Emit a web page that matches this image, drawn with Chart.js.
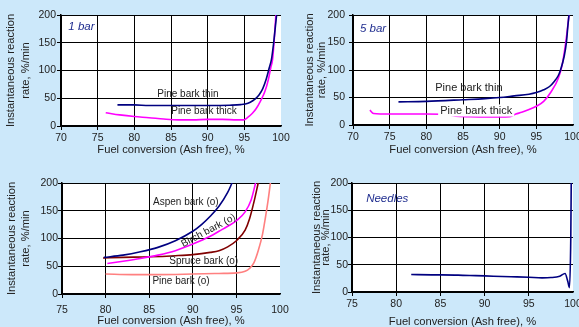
<!DOCTYPE html>
<html>
<head>
<meta charset="utf-8">
<script src="https://cdn.jsdelivr.net/npm/chart.js@4.4.1/dist/chart.umd.min.js"></script>
<style>
  body { margin: 0; background: #cce8fa; width: 579px; height: 327px; overflow: hidden; position: relative; }
  canvas { position: absolute; }
</style>
</head>
<body>
<canvas id="g1" width="290" height="163" style="left:0;top:0"></canvas>
<canvas id="g2" width="289" height="163" style="left:290px;top:0"></canvas>
<canvas id="g3" width="290" height="163" style="left:0;top:164px"></canvas>
<canvas id="g4" width="289" height="163" style="left:290px;top:164px"></canvas>
<script>
// ---- data ----
const yTicks = [0, 50, 100, 150, 200];

// 1 bar
const thin1X = [77.7, 80, 82, 85, 90, 93, 94.5, 95.5, 96.2, 96.5, 97, 97.5, 98, 98.4, 98.7, 99, 99.2, 99.4];
const thin1Y = [38, 38, 37, 37, 37, 37.5, 38.5, 41, 46, 49, 56, 67, 85, 105, 120, 150, 175, 200];
const thick1X = [76.1, 78, 80, 82, 84, 86, 88, 90, 92, 94, 94.9, 95.5, 96.1, 96.6, 97.2, 97.8, 98.3, 98.6, 98.85, 99.1, 99.3];
const thick1Y = [24, 20, 17, 15, 12.5, 11, 11, 12, 12, 11, 11, 16, 23, 31, 45, 62, 85, 105, 120, 160, 200];

// 5 bar
const thin5X = [76.2, 80, 85, 88, 90, 92, 94, 95, 96, 96.8, 97.5, 98, 98.3, 98.8, 99.1, 99.3, 99.45];
const thin5Y = [42, 43, 46, 48, 50, 53, 56, 59, 64, 70, 80, 90, 100, 125, 150, 180, 200];
const thick5X = [72.3, 72.8, 75, 80, 82.5, 84, 86, 88, 90, 91.3, 92.2, 93, 94, 95, 96, 97, 98, 98.5, 98.9, 99.2, 99.45];
const thick5Y = [27, 21, 20, 20, 19.5, 16, 15, 14.5, 14.5, 15, 20, 23, 28, 34, 43, 60, 85, 108, 140, 170, 200];

// bark types
const aspenX = [79.8, 82, 84, 86, 88, 90, 91, 92, 93, 94, 94.5];
const aspenY = [66, 70, 76, 84, 96, 113, 125, 140, 158, 183, 200];
const birchX = [80.2, 82, 84, 86, 88, 90, 92, 93, 94, 95, 96, 96.7, 97.2];
const birchY = [55, 59, 64, 70, 78, 90, 104, 113, 122, 132, 148, 170, 200];
const spruceX = [79.7, 82, 85, 88, 90, 92, 93, 94, 95, 96, 96.5, 97, 97.5];
const spruceY = [65, 66, 67, 69, 71, 75, 78, 85, 96, 115, 135, 165, 200];
const pineX = [80, 83, 86, 90, 93, 95, 96, 96.5, 97, 97.5, 98, 98.3, 98.6, 98.9];
const pineY = [36, 35, 35, 36, 37, 38, 41, 46, 56, 78, 108, 135, 165, 200];

// needles
const needlesX = [81.7, 84, 87, 89, 91, 93, 95, 96.5, 97.5, 98.5, 99.1, 99.4, 99.6, 99.75, 99.8];
const needlesY = [32, 31.5, 31, 30, 29, 28, 27, 26, 26.5, 29, 34, 20, 8, 100, 200];

// ---- helpers ----
Chart.defaults.font.family = '"Liberation Sans", Arial, sans-serif';
Chart.defaults.color = '#222';

const pts = (xs, ys) => xs.map((x, i) => ({ x: x, y: ys[i] }));

const line = (label, xs, ys, color) => ({
  label: label,
  data: pts(xs, ys),
  borderColor: color,
  borderWidth: 1.6,
  pointRadius: 0,
  fill: false,
  cubicInterpolationMode: 'monotone'
});

const plotBg = {
  id: 'plotBg',
  beforeDraw(chart) {
    const a = chart.chartArea;
    chart.ctx.save();
    chart.ctx.fillStyle = '#ffffff';
    chart.ctx.fillRect(a.left, a.top, a.right - a.left, a.bottom - a.top);
    chart.ctx.restore();
  }
};

const notes = {
  id: 'notes',
  afterDatasetsDraw(chart, args, opts) {
    const ctx = chart.ctx, x = chart.scales.x, y = chart.scales.y;
    (opts.items || []).forEach(n => {
      ctx.save();
      ctx.font = (n.italic ? 'italic ' : '') + n.size + 'px "Liberation Sans", Arial, sans-serif';
      ctx.textAlign = n.align || 'center';
      ctx.textBaseline = 'middle';
      ctx.translate(x.getPixelForValue(n.x), y.getPixelForValue(n.y));
      if (n.rotate) ctx.rotate(n.rotate * Math.PI / 180);
      if (n.bg) {
        const w = ctx.measureText(n.text).width;
        ctx.fillStyle = n.bg;
        ctx.fillRect(-w / 2 - 2, -n.size * 0.55, w + 4, n.size * 1.1);
      }
      ctx.fillStyle = n.color || '#222';
      ctx.fillText(n.text, 0, 0);
      ctx.restore();
    });
  }
};

function makePanel(id, p) {
  return new Chart(document.getElementById(id), {
    type: 'line',
    data: { datasets: p.datasets },
    plugins: [plotBg, notes],
    options: {
      responsive: false,
      animation: false,
      layout: { padding: { left: 0, top: p.padTop, right: p.padRight, bottom: 0 } },
      plugins: {
        legend: { display: false },
        tooltip: { enabled: false },
        notes: { items: p.notes }
      },
      scales: {
        x: {
          type: 'linear',
          min: p.xMin,
          max: 100,
          ticks: { stepSize: 5, padding: p.xTickPad, font: { size: 10.5 }, maxRotation: 0 },
          grid: {
            color: c => (c.tick && c.tick.value === 100) ? 'rgba(0,0,0,0)' : '#000',
            lineWidth: 1,
            tickLength: 4
          },
          border: { color: '#000', width: 1.5 },
          title: {
            display: true,
            text: 'Fuel conversion (Ash free), %',
            font: { size: 11.2, lineHeight: p.xTitleLH },
            padding: { top: 0, bottom: p.xTitlePad }
          },
          afterFit: s => { s.height = p.xH; s.paddingLeft = 0; s.paddingRight = 0; }
        },
        y: {
          min: 0,
          max: 200,
          afterBuildTicks: s => { s.ticks = yTicks.map(v => ({ value: v })); },
          ticks: { padding: p.yTickPad, font: { size: 10.5 } },
          grid: { color: '#000', lineWidth: 1, tickLength: 4 },
          border: { color: '#000', width: 1.5 },
          title: {
            display: true,
            text: ['Instantaneous reaction', 'rate, %/min'],
            font: { size: 11.2, lineHeight: p.yTitleLH },
            padding: { top: p.yTitlePad, bottom: 0 }
          },
          afterFit: s => { s.width = p.yW; s.paddingTop = 0; s.paddingBottom = 0; }
        }
      }
    }
  });
}

makePanel('g1', {
  xMin: 70, yW: 61, padTop: 15, padRight: 9, xH: 37,
  yTitleLH: '14.4px', yTitlePad: 4.1, xTitleLH: '13.4px', xTitlePad: 6.8,
  yTickPad: 1, xTickPad: 2,
  datasets: [
    line('Pine bark thin', thin1X, thin1Y, '#000080'),
    line('Pine bark thick', thick1X, thick1Y, '#ff00ff')
  ],
  notes: [
    { text: '1 bar', x: 71, y: 178, size: 11.5, italic: true, align: 'left', color: '#1f2d8f' },
    { text: 'Pine bark thin', x: 87.3, y: 56.4, size: 10 },
    { text: 'Pine bark thick', x: 89.5, y: 26.1, size: 10 }
  ]
});

makePanel('g2', {
  xMin: 70, yW: 63, padTop: 15, padRight: 6, xH: 38,
  yTitleLH: '12px', yTitlePad: 13.7, xTitleLH: '13.4px', xTitlePad: 6.3,
  yTickPad: 4, xTickPad: 2,
  datasets: [
    line('Pine bark thin', thin5X, thin5Y, '#000080'),
    line('Pine bark thick', thick5X, thick5Y, '#ff00ff')
  ],
  notes: [
    { text: '5 bar', x: 70.95, y: 174.5, size: 11.5, italic: true, align: 'left', color: '#1f2d8f' },
    { text: 'Pine bark thin', x: 85.8, y: 68.2, size: 11 },
    { text: 'Pine bark thick', x: 86.8, y: 26.4, size: 11, bg: '#ffffff' }
  ]
});

makePanel('g3', {
  xMin: 75, yW: 62, padTop: 19, padRight: 10, xH: 33,
  yTitleLH: '13.4px', yTitlePad: 5.6, xTitleLH: '13px', xTitlePad: 0,
  yTickPad: 0, xTickPad: 5.7,
  datasets: [
    line('Aspen bark (o)', aspenX, aspenY, '#000080'),
    line('Birch bark (o)', birchX, birchY, '#ff00ff'),
    line('Spruce bark (o)', spruceX, spruceY, '#800000'),
    line('Pine bark (o)', pineX, pineY, '#ff8080')
  ],
  notes: [
    { text: 'Aspen bark (o)', x: 89.2, y: 164.9, size: 10 },
    { text: 'Birch bark (o)', x: 91.8, y: 114.1, size: 10, rotate: -28 },
    { text: 'Spruce bark (o)', x: 91.25, y: 59.5, size: 10 },
    { text: 'Pine bark (o)', x: 88.65, y: 22.5, size: 10 }
  ]
});

makePanel('g4', {
  xMin: 75, yW: 62, padTop: 19, padRight: 6, xH: 35,
  yTitleLH: '9px', yTitlePad: 22.8, xTitleLH: '10.6px', xTitlePad: 0,
  yTickPad: 0, xTickPad: 1.6,
  datasets: [
    line('Needles', needlesX, needlesY, '#000080')
  ],
  notes: [
    { text: 'Needles', x: 76.6, y: 170.6, size: 11.5, italic: true, align: 'left', color: '#1f2d8f' }
  ]
});
</script>
</body>
</html>
